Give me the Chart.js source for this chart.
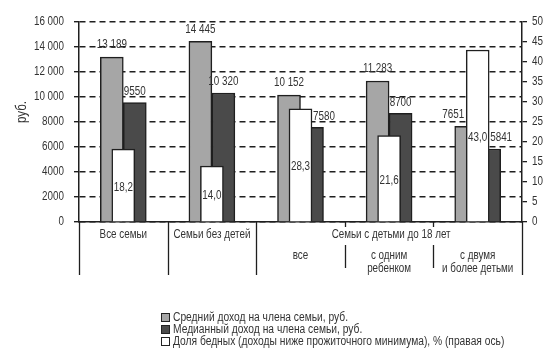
<!DOCTYPE html>
<html>
<head>
<meta charset="utf-8">
<title>Доходы семей</title>
<script src="https://cdn.jsdelivr.net/npm/chart.js@4.4.0/dist/chart.umd.min.js"></script>
<style>
    html, body { margin: 0; padding: 0; background: #fff; }
    #wrap { position: relative; width: 550px; height: 356px; }
    #legend {
        position: absolute; left: 161px; top: 311px;
        font-family: 'Liberation Sans', Arial, sans-serif;
        font-size: 12.5px; color: #333;
    }
    .legend-item { display: flex; align-items: center; height: 12px; white-space: nowrap; }
    .legend-box { width: 7px; height: 7px; border: 1px solid #222; margin-right: 3px; flex: none; }
    .legend-text { display: inline-block; transform: scaleX(0.82); transform-origin: left center; }
</style>
</head>
<body>
<div id="wrap">
    <canvas id="incomeChart" width="550" height="356"></canvas>
    <div id="legend"></div>
</div>
<script>
// --- Data ---
const categories = ['Все семьи', 'Семьи без детей', 'все', ['с одним', 'ребенком'], ['с двумя', 'и более детьми']];
const groupLabel = 'Семьи с детьми до 18 лет';
const groupFrom = 2; // first category under groupLabel
const meanIncome = [13189, 14445, 10152, 11283, 7651];
const medianIncome = [9550, 10320, 7580, 8700, 5841];
const poorShare = [18.2, 14.0, 28.3, 21.6, 43.0];
const seriesNames = [
    'Средний доход на члена семьи, руб.',
    'Медианный доход на члена семьи, руб.',
    'Доля бедных (доходы ниже прожиточного минимума), % (правая ось)'
];
const leftAxisTitle = 'руб.';

// --- Styles ---
const FONT = "'Liberation Sans', Arial, sans-serif";
const SQUEEZE = 0.82; // the original uses a narrow typeface
const TEXT = '#333';
const LINE = '#1f1f1f';
const COLORS = ['#a6a6a6', '#4a4a4a', '#ffffff'];

// 16000 -> "16 000", 9550 -> "9550"
const fmtRub = (v) => v >= 10000 ? String(v).replace(/\B(?=(\d{3})+(?!\d))/g, ' ') : String(v);
const fmtPct = (v) => v.toFixed(1).replace('.', ',');

// condensed text helper
const narrowText = (ctx, text, x, y, align) => {
    ctx.save();
    ctx.translate(x, y);
    ctx.scale(SQUEEZE, 1);
    ctx.textAlign = align;
    ctx.fillText(text, 0, 0);
    ctx.restore();
};

// Labels over bars, tick labels, axis title and the two-level category axis
const annotations = {
    id: 'annotations',
    afterDatasetsDraw(chart) {
        const ctx = chart.ctx;
        const gray = chart.getDatasetMeta(0).data;
        const dark = chart.getDatasetMeta(1).data;
        const white = chart.getDatasetMeta(2).data;
        ctx.save();
        ctx.fillStyle = TEXT;
        ctx.font = '12px ' + FONT;
        ctx.textBaseline = 'middle';
        categories.forEach((_, i) => {
            const g = gray[i], d = dark[i], w = white[i];
            const wLeft = w.x - w.width / 2, wRight = w.x + w.width / 2;
            // mean income: move left when the white bar rises over the label
            if (w.y < g.y - 12) {
                narrowText(ctx, fmtRub(meanIncome[i]), wLeft - 2, g.y - 12, 'right');
            } else {
                narrowText(ctx, fmtRub(meanIncome[i]), g.x, g.y - 12, 'center');
            }
            // median income
            if (w.y < d.y - 5) {
                narrowText(ctx, fmtRub(medianIncome[i]), wRight + 1, d.y - 11, 'left');
            } else {
                narrowText(ctx, fmtRub(medianIncome[i]), d.x, d.y - 11, 'center');
            }
            // share of poor, inside the white bar
            narrowText(ctx, fmtPct(poorShare[i]), w.x, (w.y + w.base) / 2 + 2, 'center');
        });
        ctx.restore();
    },
    afterDraw(chart) {
        const ctx = chart.ctx;
        const x = chart.scales.x;
        const y = chart.scales.y;
        const y2 = chart.scales.y2;
        const area = chart.chartArea;
        const half = (x.getPixelForValue(1) - x.getPixelForValue(0)) / 2;
        const bottom = area.bottom;
        ctx.save();
        ctx.strokeStyle = LINE;
        ctx.lineWidth = 1.3;
        const vline = (px, y1, y2) => {
            ctx.beginPath();
            ctx.moveTo(px, y1);
            ctx.lineTo(px, y2);
            ctx.stroke();
        };
        // separators between categories
        for (let i = 0; i <= categories.length; i++) {
            const px = Math.round(x.getPixelForValue(i) - half) + 0.5;
            if (i > groupFrom && i < categories.length) {
                vline(px, bottom, bottom + 5);
                vline(px, bottom + 23, bottom + 46);
            } else {
                vline(px, bottom, bottom + 53);
            }
        }
        ctx.fillStyle = TEXT;
        ctx.font = '12px ' + FONT;
        ctx.textBaseline = 'middle';

        // tick labels of both value axes
        y.ticks.forEach((t) => narrowText(ctx, fmtRub(t.value), y.right - 15, y.getPixelForValue(t.value), 'right'));
        y2.ticks.forEach((t) => narrowText(ctx, String(t.value), y2.left + 10, y2.getPixelForValue(t.value), 'left'));

        // category labels
        categories.forEach((label, i) => {
            const cx = x.getPixelForValue(i);
            if (i < groupFrom) {
                narrowText(ctx, label, cx, bottom + 13, 'center');
            } else {
                const lines = Array.isArray(label) ? label : [label];
                lines.forEach((t, k) => narrowText(ctx, t, cx, bottom + 34 + k * 13, 'center'));
            }
        });
        const gx = (x.getPixelForValue(groupFrom) + x.getPixelForValue(categories.length - 1)) / 2;
        narrowText(ctx, groupLabel, gx + 2, bottom + 13, 'center');

        // left axis title
        ctx.translate(22, area.top + (area.bottom - area.top) * 0.45);
        ctx.rotate(-Math.PI / 2);
        ctx.font = '14px ' + FONT;
        narrowText(ctx, leftAxisTitle, 0, 0, 'center');
        ctx.restore();
    }
};

const ctx = document.getElementById('incomeChart').getContext('2d');
const barStyle = { borderColor: LINE, borderWidth: 1.5, barThickness: 23 };

const chart = new Chart(ctx, {
    type: 'bar',
    data: {
        labels: categories,
        datasets: [
            { ...barStyle, label: seriesNames[0], data: meanIncome, backgroundColor: COLORS[0], yAxisID: 'y', order: 1 },
            { ...barStyle, label: seriesNames[1], data: medianIncome, backgroundColor: COLORS[1], yAxisID: 'y', order: 1 },
            { ...barStyle, label: seriesNames[2], data: poorShare, backgroundColor: COLORS[2], yAxisID: 'y2', order: 0, grouped: false }
        ]
    },
    options: {
        responsive: false,
        animation: false,
        events: [],
        layout: { padding: { top: 22, bottom: 134, left: 0, right: 0 } },
        plugins: { legend: { display: false }, tooltip: { enabled: false } },
        scales: {
            x: {
                ticks: { display: false },
                grid: { display: false },
                border: { display: true, color: LINE, width: 1.5 },
                afterFit: (scale) => { scale.height = 0; }
            },
            y: {
                position: 'left',
                min: 0, max: 16000,
                ticks: { stepSize: 2000, display: false },
                grid: { color: LINE, lineWidth: 1.4, tickLength: 5, tickColor: LINE, tickBorderDash: [] },
                border: { display: true, color: LINE, width: 1.5, dash: [6, 4] },
                afterFit: (scale) => { scale.width = 79; }
            },
            y2: {
                position: 'right',
                min: 0, max: 50,
                ticks: { stepSize: 5, display: false },
                grid: { drawOnChartArea: false, color: LINE, tickLength: 5, lineWidth: 1.3 },
                border: { display: true, color: LINE, width: 1.5 },
                afterFit: (scale) => { scale.width = 28; }
            }
        }
    },
    plugins: [annotations]
});

// --- Legend (HTML) ---
const legendEl = document.getElementById('legend');
seriesNames.forEach((name, i) => {
    const item = document.createElement('div');
    item.className = 'legend-item';
    const box = document.createElement('span');
    box.className = 'legend-box';
    box.style.background = COLORS[i];
    const text = document.createElement('span');
    text.className = 'legend-text';
    text.textContent = name;
    item.appendChild(box);
    item.appendChild(text);
    legendEl.appendChild(item);
});
</script>
</body>
</html>
